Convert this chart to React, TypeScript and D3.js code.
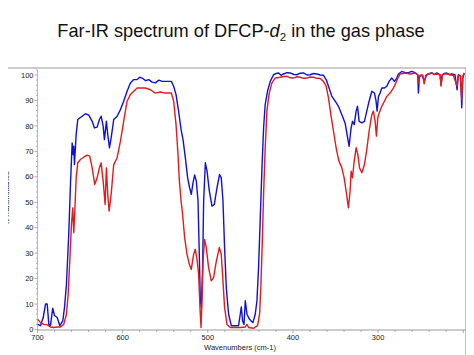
import React, { useEffect, useRef } from "react";
import * as d3 from "d3";

// wavenumbers (cm-1) and %T
const blueWn = [699.6, 696.5, 693.3, 690.6, 688.6, 686.7, 684.8, 682.1, 680.1, 676.9, 673.8, 670.3, 668.3, 666.0, 663.3, 661.3, 659.3, 658.1, 657.4, 656.6, 654.6, 652.7, 650.4, 647.6, 643.7, 639.8, 635.8, 633.1, 630.0, 627.3, 625.3, 622.9, 621.4, 619.1, 617.5, 615.5, 613.2, 610.5, 606.5, 602.6, 598.8, 594.8, 590.9, 587.0, 583.0, 580.0, 577.2, 573.0, 569.4, 565.5, 561.6, 557.5, 553.7, 547.9, 542.8, 540.1, 537.3, 534.3, 531.4, 529.1, 526.4, 523.7, 521.4, 519.4, 517.4, 515.5, 513.5, 511.5, 510.0, 508.8, 507.6, 506.1, 504.9, 502.9, 500.9, 498.2, 495.1, 492.4, 489.2, 486.2, 484.2, 482.2, 480.3, 478.3, 475.6, 472.4, 467.7, 463.9, 461.9, 460.7, 459.2, 457.5, 456.0, 454.0, 451.0, 447.0, 444.3, 442.3, 440.4, 438.4, 436.4, 434.5, 432.6, 429.9, 426.7, 422.8, 419.5, 416.9, 414.0, 411.1, 407.0, 403.2, 399.0, 395.4, 391.5, 387.6, 383.5, 379.8, 375.9, 371.9, 368.0, 364.2, 361.0, 358.3, 354.3, 350.4, 346.6, 342.6, 338.7, 335.8, 334.0, 332.5, 331.7, 330.1, 328.1, 325.8, 324.2, 322.3, 319.1, 316.1, 313.3, 310.6, 307.4, 304.3, 302.4, 301.2, 299.6, 297.7, 295.7, 292.6, 289.8, 287.1, 284.0, 280.9, 278.1, 276.2, 272.2, 268.3, 264.5, 260.5, 256.6, 253.4, 252.7, 251.6, 248.0, 246.0, 242.9, 240.0, 237.0, 234.0, 231.1, 227.3, 226.1, 224.6, 222.0, 219.4, 216.5, 213.6, 209.7, 207.3, 205.8, 203.0, 201.8, 200.6, 198.8];
const blueT = [2, 1.5, 4.7, 10, 10, 2, 1.5, 8.4, 5.5, 4.7, 1.5, 3.4, 8.6, 17.8, 37.4, 57, 73.3, 68.7, 72, 64.8, 76.6, 82.5, 83.1, 83.8, 84.8, 84.2, 81.8, 79.2, 79.5, 82.5, 83.8, 79.9, 74.6, 81.8, 76.6, 71.4, 76, 82.5, 83.8, 86.4, 89.7, 93.6, 96.9, 98.2, 98.2, 99.1, 98.8, 97.8, 98.2, 97.2, 96.9, 98.0, 97.5, 97.5, 97.5, 95.6, 92.3, 85.8, 78.5, 74.6, 67.5, 59.6, 55.7, 53.1, 57.6, 60.7, 58.3, 50.5, 29.5, 11.3, 8.6, 24.3, 50.5, 65.5, 62.2, 54.4, 48.5, 49.1, 55.7, 60.9, 59.6, 50.5, 32.2, 16.5, 6, 1.5, 1.5, 1.5, 6, 8.9, 3.4, 2, 11.3, 6, 4, 2.7, 6, 11.3, 24.3, 43.9, 63.5, 79.2, 88.4, 93.6, 97.5, 100.1, 100.6, 100.8, 99.9, 100.4, 100.9, 100.8, 100.2, 100.1, 100.7, 100.8, 100.0, 100.1, 100.6, 100.4, 100.0, 99.9, 98.2, 95.6, 91.6, 89.7, 87.7, 84.4, 81, 75.3, 72, 77, 79.2, 81.8, 80.5, 85.8, 87.7, 81.8, 81.2, 81.8, 85.8, 89.7, 93.6, 92.9, 89.7, 85.8, 91.6, 92.9, 94.9, 94.9, 95.6, 97.5, 98.8, 97.5, 98.8, 100.4, 101.4, 100.9, 100.9, 101.4, 100.9, 100.1, 92.9, 99.5, 99.9, 97.5, 100.1, 100.5, 100.8, 100.2, 100.8, 100.1, 96.2, 100.1, 100.6, 100.8, 100.1, 100.4, 100.1, 94.2, 100.1, 99.5, 87.1, 98.8, 100.8];

const redWn = [699.6, 696.5, 692.6, 688.6, 684.8, 680.9, 676.9, 673.0, 669.2, 666.0, 664.0, 662.1, 660.1, 658.6, 657.4, 656.2, 654.6, 652.7, 649.6, 645.7, 641.7, 638.7, 635.8, 632.8, 630.0, 627.3, 625.3, 622.9, 620.6, 619.1, 617.5, 615.9, 613.5, 610.5, 606.5, 602.6, 598.8, 594.8, 590.9, 587.0, 583.0, 579.2, 573.3, 567.4, 561.6, 555.7, 549.9, 542.8, 540.1, 537.3, 535.0, 533.4, 531.4, 529.6, 527.2, 524.4, 521.7, 519.4, 516.7, 514.7, 512.7, 510.8, 509.2, 508.0, 506.8, 505.6, 503.8, 501.8, 499.1, 495.9, 493.2, 490.0, 486.5, 484.2, 482.2, 480.3, 477.5, 473.6, 467.7, 461.9, 456.0, 454.0, 452.1, 446.3, 441.6, 439.2, 437.6, 436.1, 434.5, 432.6, 430.6, 427.9, 424.7, 420.9, 415.0, 411.0, 407.1, 403.0, 399.4, 395.5, 391.5, 387.5, 383.6, 379.8, 375.9, 372.0, 368.0, 364.2, 361.0, 358.3, 355.5, 352.4, 349.3, 346.1, 342.6, 339.9, 337.0, 334.9, 332.9, 331.7, 330.1, 328.1, 325.8, 323.8, 321.8, 319.1, 316.1, 313.3, 310.6, 307.4, 305.6, 303.5, 302.0, 300.4, 298.8, 295.7, 292.6, 289.8, 285.9, 282.0, 279.2, 276.8, 274.2, 268.3, 262.4, 256.6, 253.4, 252.7, 250.7, 247.6, 246.0, 244.0, 240.0, 237.0, 234.0, 231.1, 227.3, 226.1, 224.6, 221.0, 217.5, 214.5, 211.7, 207.3, 205.8, 203.8, 201.8, 200.6, 198.8];
const redT = [4, 2.7, 2, 1.8, 1, 0.8, 1, 1, 2, 6, 13.8, 26.9, 41.3, 47.8, 38, 46.5, 59.6, 65.5, 66.8, 67.7, 68.5, 68.1, 63.5, 57, 59.6, 63.5, 65.5, 58.3, 49.1, 63.5, 53.1, 46.5, 53.1, 64.8, 67.5, 74, 81.8, 89.7, 92.3, 93.6, 94.9, 94.9, 94.9, 94.2, 92.9, 93.3, 92.9, 92.9, 89.7, 80.5, 68.7, 58.3, 50.5, 45.2, 36.1, 29.5, 25.6, 23.6, 29.5, 31.5, 27.6, 21.7, 8.6, 0.8, 11.3, 26.9, 35.4, 32.2, 24.3, 19.1, 20.4, 26.9, 32.2, 29.5, 19.1, 8.6, 2, 0.8, 0.8, 0.8, 1, 2, 0.8, 0.5, 1.5, 6, 17.8, 33.5, 53.1, 71.4, 85.8, 92.9, 96.9, 98.8, 99.1, 99.4, 99.5, 98.9, 98.8, 99.3, 99.1, 98.7, 98.8, 99.2, 99.1, 98.7, 98.6, 97.5, 95.6, 91, 84.4, 77.9, 71.4, 66.2, 63.5, 59.6, 53.1, 47.8, 54.4, 62.2, 59.6, 66.2, 71.4, 68.7, 63.5, 61.6, 64.8, 70.7, 77.9, 84.4, 85.8, 81.8, 76, 83.1, 85.1, 87.7, 89.7, 91.6, 92.9, 94.9, 96.9, 98.8, 100.4, 100.8, 100.4, 100.8, 100.1, 96.9, 99.9, 99.9, 96.5, 99.9, 100.5, 100.8, 100.2, 100.4, 100.1, 95.6, 100.1, 100.5, 100.4, 100.0, 99.9, 95.6, 99.9, 99.9, 90.3, 99.5, 100.8];

const xTickLabels = [700, 600, 500, 400, 300];
const yTickLabels = [0, 10, 20, 30, 40, 50, 60, 70, 80, 90, 100];

const W = 474;
const H = 355;
const left = 37.5;
const right = 466;
const top = 68;
const bottom = 330;

const font = "Liberation Sans, Arial, sans-serif";

const App = () => {
  const svgRef = useRef<SVGSVGElement>(null);

  const x = d3.scaleLinear().domain([700, 196.8]).range([left, right]);
  const y = d3.scaleLinear().domain([0, 100]).range([329.5, 75]);

  useEffect(() => {
    const svg = d3.select(svgRef.current);
    const g = svg.select<SVGGElement>("g.plot");
    g.selectAll("*").remove();

    const line = d3
      .line<[number, number]>()
      .x((d) => x(d[0]))
      .y((d) => y(d[1]));

    const blue = blueWn.map((w, i) => [w, blueT[i]] as [number, number]);
    const red = redWn.map((w, i) => [w, redT[i]] as [number, number]);

    g.append("path")
      .attr("d", line(blue))
      .attr("fill", "none")
      .attr("stroke", "#1010d8")
      .attr("stroke-width", 1.4)
      .attr("stroke-linejoin", "round");

    g.append("path")
      .attr("d", line(red))
      .attr("fill", "none")
      .attr("stroke", "#e01c1c")
      .attr("stroke-width", 1.4)
      .attr("stroke-linejoin", "round");
  }, []);

  const xMinor = d3.range(700, 196, -20);
  const yMinor = d3.range(0, 103, 2);

  return (
    <svg ref={svgRef} width={W} height={H} style={{ display: "block", margin: "-8px 0 0 -8px", background: "#fff" }}>
      <text x={241} y={37} textAnchor="middle" fontFamily={font} fontSize={18.2} fill="#111">
        Far-IR spectrum of DFCP-<tspan fontStyle="italic">d</tspan>
        <tspan fontSize={11.5} dy={4}>2</tspan>
        <tspan dy={-4}> in the gas phase</tspan>
      </text>

      {/* frame */}
      <line x1={0} x2={right} y1={top} y2={top} stroke="#999" strokeWidth={1.2} />
      <line x1={right} x2={right} y1={top} y2={H} stroke="#999" strokeWidth={1.2} />
      <line x1={left} x2={left} y1={top + 2} y2={bottom} stroke="#bbb" strokeWidth={1} />
      <line x1={left} x2={right} y1={bottom} y2={bottom} stroke="#999" strokeWidth={1} />

      {yMinor.map((v) => (
        <line key={"ym" + v} x1={left - (v % 10 === 0 ? 3 : 1.5)} x2={left} y1={y(v)} y2={y(v)} stroke="#999" strokeWidth={0.8} />
      ))}
      {xMinor.map((v) => (
        <line key={"xm" + v} x1={x(v)} x2={x(v)} y1={bottom} y2={bottom + (v % 100 === 0 ? 3 : 2)} stroke="#999" strokeWidth={0.8} />
      ))}

      {yTickLabels.map((v) => (
        <text key={"yl" + v} x={left - 4} y={y(v) + 2.6} textAnchor="end" fontFamily={font} fontSize={7.5} fill="#222">
          {v}
        </text>
      ))}
      {xTickLabels.map((v) => (
        <text key={"xl" + v} x={x(v)} y={339.5} textAnchor="middle" fontFamily={font} fontSize={7.5} fill="#222">
          {v}
        </text>
      ))}

      <text x={240} y={350} textAnchor="middle" fontFamily={font} fontSize={7.5} fill="#222">
        Wavenumbers (cm-1)
      </text>
      <text transform="translate(9,198) rotate(-90)" textAnchor="middle" fontFamily={font} fontSize={7.5} fill="#111">
        %Transmittance
      </text>

      <g className="plot" />
    </svg>
  );
};

export default App;
